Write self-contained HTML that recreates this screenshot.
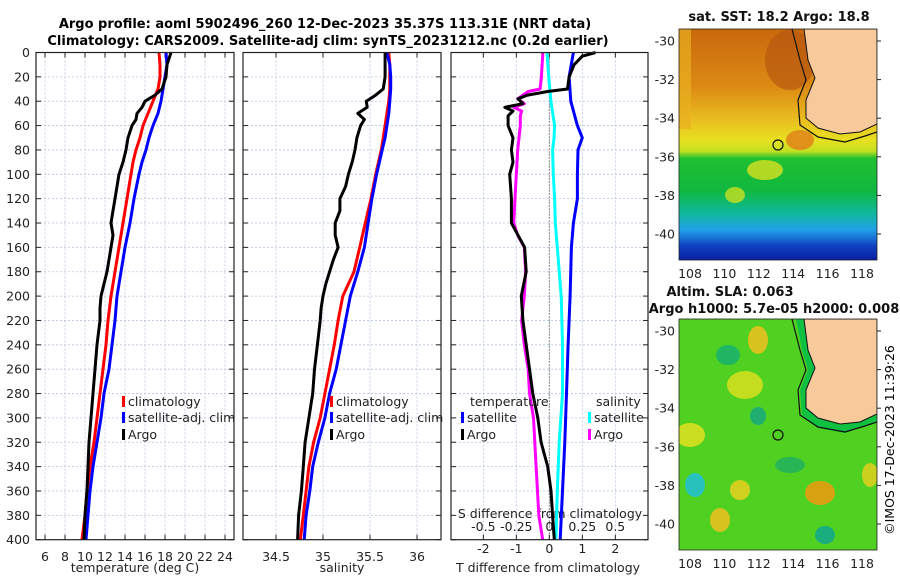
<!DOCTYPE html>
<html><head><meta charset="utf-8"><style>
body{margin:0;background:#fff;width:900px;height:580px;overflow:hidden}
svg{font-family:"DejaVu Sans","Liberation Sans",sans-serif}
</style></head><body>
<svg id="fig" width="900" height="580" viewBox="0 0 900 580" xmlns="http://www.w3.org/2000/svg">
<text x="325" y="28" font-size="13" font-weight="bold" text-anchor="middle">Argo profile: aoml 5902496_260 12-Dec-2023 35.37S 113.31E (NRT data)</text>
<text x="328" y="45" font-size="13" font-weight="bold" text-anchor="middle">Climatology: CARS2009. Satellite-adj clim: synTS_20231212.nc (0.2d earlier)</text>
<g id="plots"></g>
<g id="maps"></g>
<text transform="translate(894,440) rotate(-90)" font-size="12.5" text-anchor="middle">©IMOS 17-Dec-2023 11:39:26</text>
</svg>
<script>
const depthT=[0,10,20,30,35,40,45,50,55,60,70,80,90,100,110,120,130,140,150,160,170,180,190,200,210,220,240,260,280,300,320,340,360,380,400];
const argoT=[18.6,18.2,18.1,17.7,17.0,16.0,15.7,15.2,15.1,14.7,14.3,14.1,13.8,13.4,13.2,13.0,12.8,12.6,12.8,12.6,12.4,12.2,11.9,11.6,11.5,11.5,11.2,11.0,10.8,10.6,10.4,10.3,10.2,10.0,9.9];
const argoS=[35.66,35.66,35.66,35.64,35.56,35.46,35.47,35.37,35.44,35.40,35.36,35.34,35.31,35.27,35.24,35.18,35.18,35.13,35.13,35.16,35.11,35.07,35.03,35.0,34.98,34.97,34.94,34.91,34.89,34.85,34.81,34.79,34.77,34.74,34.73];
const depthC=[0,10,20,30,40,50,60,70,80,90,100,120,140,160,180,200,220,240,260,280,300,320,340,360,380,400];
const climT=[17.4,17.5,17.5,17.3,16.8,16.3,15.8,15.5,15.1,14.8,14.6,14.2,13.8,13.4,13.0,12.6,12.3,12.1,11.8,11.5,11.2,10.9,10.5,10.2,10.0,9.7];
const satT=[18.1,18.2,18.0,17.8,17.6,17.3,16.8,16.4,16.1,15.7,15.4,14.9,14.5,14.0,13.6,13.2,13.0,12.7,12.4,11.9,11.6,11.2,10.8,10.5,10.3,10.1];
const climS=[35.70,35.71,35.71,35.71,35.70,35.68,35.66,35.64,35.62,35.59,35.56,35.51,35.45,35.39,35.33,35.21,35.16,35.12,35.07,35.02,34.97,34.90,34.85,34.82,34.79,34.76];
const satS=[35.68,35.71,35.72,35.72,35.71,35.70,35.68,35.66,35.63,35.60,35.57,35.52,35.48,35.44,35.37,35.29,35.24,35.19,35.14,35.07,35.02,34.95,34.89,34.86,34.82,34.80];
const depthD=[0,3,10,20,30,32,35,38,42,45,48,52,60,70,80,90,100,120,140,150,160,180,200,220,240,260,280,300,320,340,360,380,400];
const argoDT=[1.4,1.0,0.75,0.6,0.55,-0.05,-0.66,-0.95,-0.8,-1.35,-1.1,-1.25,-1.25,-1.1,-1.15,-1.1,-1.2,-1.15,-1.15,-0.95,-0.75,-0.7,-0.85,-0.8,-0.7,-0.6,-0.5,-0.35,-0.25,-0.05,0.05,0.1,0.15];
const argoDS=[-0.05,-0.05,-0.055,-0.06,-0.07,-0.16,-0.2,-0.24,-0.19,-0.27,-0.21,-0.22,-0.22,-0.23,-0.24,-0.245,-0.25,-0.26,-0.27,-0.24,-0.19,-0.18,-0.19,-0.21,-0.19,-0.16,-0.15,-0.12,-0.11,-0.1,-0.09,-0.08,-0.05];
const depthSD=[0,20,40,60,70,80,100,120,140,160,200,240,280,320,360,400];
const satDT=[0.73,0.6,0.65,0.85,1.0,0.87,0.85,0.85,0.73,0.67,0.63,0.57,0.52,0.47,0.4,0.33];
const satDS=[-0.018,-0.005,0.012,0.04,0.035,0.025,0.03,0.04,0.045,0.06,0.09,0.1,0.1,0.075,0.06,0.05];
const depthTicks=[0,20,40,60,80,100,120,140,160,180,200,220,240,260,280,300,320,340,360,380,400];
const tTicks=[6,8,10,12,14,16,18,20,22,24];
const sTicks=[34.5,35,35.5,36];
const dTicks=[-2,-1,0,1,2];
const dsTicks=[-0.5,-0.25,0,0.25,0.5];
const latTicks=[-30,-32,-34,-36,-38,-40];
const lonTicks=[108,110,112,114,116,118];

const NS='http://www.w3.org/2000/svg';
function mk(tag,attrs,parent,txt){const e=document.createElementNS(NS,tag);for(const k in attrs)e.setAttribute(k,attrs[k]);if(txt!==undefined)e.textContent=txt;parent.appendChild(e);return e;}
const plots=document.getElementById('plots');
const Y0=52.5,Y1=539.7;
const yD=d=>Y0+d*(Y1-Y0)/400;
const panels=[
 {name:'temperature',x0:36,x1:234,lo:5.1,hi:24.9},
 {name:'salinity',x0:243,x1:441,lo:34.149,hi:36.255},
 {name:'difference',x0:451,x1:648,lo:-2.98,hi:2.99}
];
panels.forEach(p=>{p.f=v=>p.x0+(v-p.lo)*(p.x1-p.x0)/(p.hi-p.lo);});
const xT=panels[0].f,xS=panels[1].f,xDT=panels[2].f,xDS=v=>xDT(v*4);

function grid(p,xticks,xf){
  const g=mk('g',{},plots);
  
  
  xticks.forEach(t=>mk('line',{x1:xf(t),x2:xf(t),y1:Y0,y2:Y1,stroke:'#b8c4e0','stroke-width':0.8,'stroke-dasharray':'2,2'},g));
  depthTicks.forEach(d=>{mk('line',{x1:p.x0,x2:p.x1,y1:yD(d),y2:yD(d),stroke:'#b8c4e0','stroke-width':0.8,'stroke-dasharray':'2,2'},g);
    mk('line',{x1:p.x0,x2:p.x0+5,y1:yD(d),y2:yD(d),stroke:'#222'},g);mk('line',{x1:p.x1-5,x2:p.x1,y1:yD(d),y2:yD(d),stroke:'#222'},g);});
  xticks.forEach(t=>{mk('line',{x1:xf(t),x2:xf(t),y1:Y1-5,y2:Y1,stroke:'#222'},g);mk('line',{x1:xf(t),x2:xf(t),y1:Y0,y2:Y0+5,stroke:'#222'},g);});
}
function frame(p){const r=mk('rect',{x:p.x0,y:Y0,width:p.x1-p.x0,height:Y1-Y0,fill:'none',stroke:'#222','stroke-width':1.2},plots);
  
  }
function line(xs,ds,xf,col,name,w){const pts=xs.map((v,i)=>xf(v).toFixed(1)+','+yD(ds[i]).toFixed(1)).join(' ');
  const e=mk('polyline',{points:pts,fill:'none',stroke:col,'stroke-width':w||3,'stroke-linejoin':'round'},plots);
  
  }
function txt(x,y,s,name,opt){const e=mk('text',Object.assign({x:x,y:y,'font-size':12.5,fill:'#222'},opt||{}),plots,s);
  
  return e;}

grid(panels[0],tTicks,xT);grid(panels[1],sTicks,xS);grid(panels[2],dTicks,xDT);
mk('line',{x1:xDT(0),x2:xDT(0),y1:Y0,y2:Y1,stroke:'#333','stroke-width':1,'stroke-dasharray':'1,2'},plots);
depthTicks.forEach(d=>txt(30,yD(d)+4.5,String(d),'depth-tick-label',{'text-anchor':'end'}));
tTicks.forEach(t=>txt(xT(t),561,String(t),'temperature-tick-label',{'text-anchor':'middle'}));
sTicks.forEach(t=>txt(xS(t),561,String(t),'salinity-tick-label',{'text-anchor':'middle'}));
dTicks.forEach(t=>txt(xDT(t),553,String(t),'t-diff-tick-label',{'text-anchor':'middle'}));
dsTicks.forEach(t=>txt(xDS(t),531,String(t),'s-diff-tick-label',{'text-anchor':'middle'}));
txt(135,572,'temperature (deg C)','x-axis-title-temperature',{'text-anchor':'middle'});
txt(342,572,'salinity','x-axis-title-salinity',{'text-anchor':'middle'});
txt(548,572,'T difference from climatology','x-axis-title-t-diff',{'text-anchor':'middle'});
txt(550,518,'S difference from climatology','s-diff-axis-title',{'text-anchor':'middle'});

line(climT,depthC,xT,'#f00','climatology-temperature-line');
line(satT,depthC,xT,'#00f','satellite-temperature-line');
line(argoT,depthT,xT,'#000','argo-temperature-line');
line(climS,depthC,xS,'#f00','climatology-salinity-line');
line(satS,depthC,xS,'#00f','satellite-salinity-line');
line(argoS,depthT,xS,'#000','argo-salinity-line');
line(satDS,depthSD,xDS,'#0ff','satellite-salinity-diff-line');
line(argoDS,depthD,xDS,'#f0f','argo-salinity-diff-line');
line(satDT,depthSD,xDT,'#00f','satellite-temperature-diff-line');
line(argoDT,depthD,xDT,'#000','argo-temperature-diff-line');
panels.forEach(frame);

function legend(x,y,col,label,name){const g=mk('g',{},plots);
  
  
  mk('rect',{x:x,y:y-10,width:3,height:11,fill:col},g);
  mk('text',{x:x+6,y:y,'font-size':12.5,fill:'#222'},g,label);}
[0,1].forEach(i=>{const x=i?330:122;
  legend(x,406,'#f00','climatology','legend-entry-climatology');
  legend(x,422,'#00f','satellite-adj. clim','legend-entry-satellite-adj');
  legend(x,439,'#000','Argo','legend-entry-argo');});
txt(470,406,'temperature','legend-title-temperature');
legend(461,422,'#00f','satellite','legend-entry-t-satellite');
legend(461,439,'#000','Argo','legend-entry-t-argo');
txt(596,406,'salinity','legend-title-salinity');
legend(588,422,'#0ff','satellite','legend-entry-s-satellite');
legend(588,439,'#f0f','Argo','legend-entry-s-argo');

// maps
const maps=document.getElementById('maps');
const MX0=679,MX1=877;
const lonX=l=>690+(l-108)*17.2;
function latY(l,off){return 41+(-30-l)*19.3+off;}
function buildMap(off,kind){
  const g=mk('g',{},maps);
  
  
  const cid='clip'+kind;
  const cp=mk('clipPath',{id:cid},g);mk('rect',{x:MX0,y:29+off,width:MX1-MX0,height:231},cp);
  const inner=mk('g',{'clip-path':'url(#'+cid+')'},g);
  if(kind==='sst'){
    const gr=mk('linearGradient',{id:'sstg',x1:0,y1:0,x2:0,y2:1},g);
    [[0,'#c8680c'],[0.25,'#dc8a14'],[0.4,'#eac020'],[0.48,'#e8e020'],[0.53,'#c0e020'],[0.56,'#20c030'],[0.7,'#10b840'],[0.8,'#10b8a0'],[0.87,'#20a0e8'],[0.94,'#1040c0'],[1,'#0820a0']].forEach(s=>mk('stop',{offset:s[0],'stop-color':s[1]},gr));
    mk('rect',{x:MX0,y:29+off,width:198,height:231,fill:'url(#sstg)'},inner);
    mk('rect',{x:MX0,y:29+off,width:12,height:100,fill:'#e8b020',opacity:0.7},inner);
    mk('ellipse',{cx:790,cy:60,rx:25,ry:30,fill:'#b85810',opacity:0.7},inner);
    mk('ellipse',{cx:765,cy:170,rx:18,ry:10,fill:'#d8e020',opacity:0.8},inner);
    mk('ellipse',{cx:800,cy:140,rx:14,ry:10,fill:'#e08818',opacity:0.9},inner);
    mk('ellipse',{cx:735,cy:195,rx:10,ry:8,fill:'#c8e020',opacity:0.8},inner);
  } else {
    mk('rect',{x:MX0,y:29+off,width:198,height:231,fill:'#50d020'},inner);
    [[758,50,10,14,'#f0c020'],[745,95,18,14,'#d8e020'],[690,145,15,12,'#e0e020'],[820,203,15,12,'#f09a10'],[740,200,10,10,'#e8d020'],[720,230,10,12,'#f0c020'],[870,185,8,12,'#e0d020']].forEach(e=>mk('ellipse',{cx:e[0],cy:e[1]+off,rx:e[2],ry:e[3],fill:e[4],opacity:0.85},inner));
    [[728,65,12,10,'#18b070'],[758,126,8,9,'#18a880'],[695,195,10,12,'#20c0d8'],[825,245,10,9,'#10a890'],[790,175,15,8,'#20b060']].forEach(e=>mk('ellipse',{cx:e[0],cy:e[1]+off,rx:e[2],ry:e[3],fill:e[4],opacity:0.85},inner));
    mk('path',{d:`M796 ${29+off} L802 ${60+off} L808 ${80+off} L800 ${100+off} L802 ${125+off} L818 ${138+off} L845 ${143+off} L877 ${132+off} L877 ${29+off} Z`,fill:'#10c040'},inner);
  }
  mk('path',{d:`M804 ${29+off} L808 ${60+off} L815 ${78+off} L806 ${100+off} L806 ${118+off} L818 ${128+off} L840 ${134+off} L860 ${132+off} L877 ${124+off} L877 ${29+off} Z`,fill:'#f8c99a',stroke:'#111','stroke-width':1},inner);
  mk('path',{d:`M792 ${29+off} L800 ${60+off} L806 ${80+off} L798 ${100+off} L800 ${125+off} L818 ${137+off} L845 ${142+off} L865 ${136+off} L877 ${132+off}`,fill:'none',stroke:'#111','stroke-width':1.2},inner);
  mk('circle',{cx:778,cy:145+off,r:5,fill:'none',stroke:'#111','stroke-width':1.2},g);
  mk('rect',{x:MX0,y:29+off,width:198,height:231,fill:'none',stroke:'#222','stroke-width':0.8},g);
  latTicks.forEach(l=>{const t=mk('text',{x:675,y:latY(l,off)+4.5,'font-size':12.5,fill:'#222','text-anchor':'end'},g,String(l));
    
    
    mk('line',{x1:MX1,x2:MX1+4,y1:latY(l,off),y2:latY(l,off),stroke:'#222'},g);});
  lonTicks.forEach(l=>{const t=mk('text',{x:lonX(l),y:278+off,'font-size':12.5,fill:'#222','text-anchor':'middle'},g,String(l));
    
    });
}
buildMap(0,'sst');buildMap(290,'sla');
function mt(x,y,s,name){const e=mk('text',{x:x,y:y,'font-size':13,'font-weight':'bold','text-anchor':'middle',fill:'#111'},maps,s);
  
  }
mt(779,21,'sat. SST: 18.2 Argo: 18.8','sst-map-title');
mt(730,296,'Altim. SLA: 0.063','sla-map-title');
mt(774,313,'Argo h1000: 5.7e-05 h2000: 0.008','sla-map-subtitle');
</script>
</body></html>
